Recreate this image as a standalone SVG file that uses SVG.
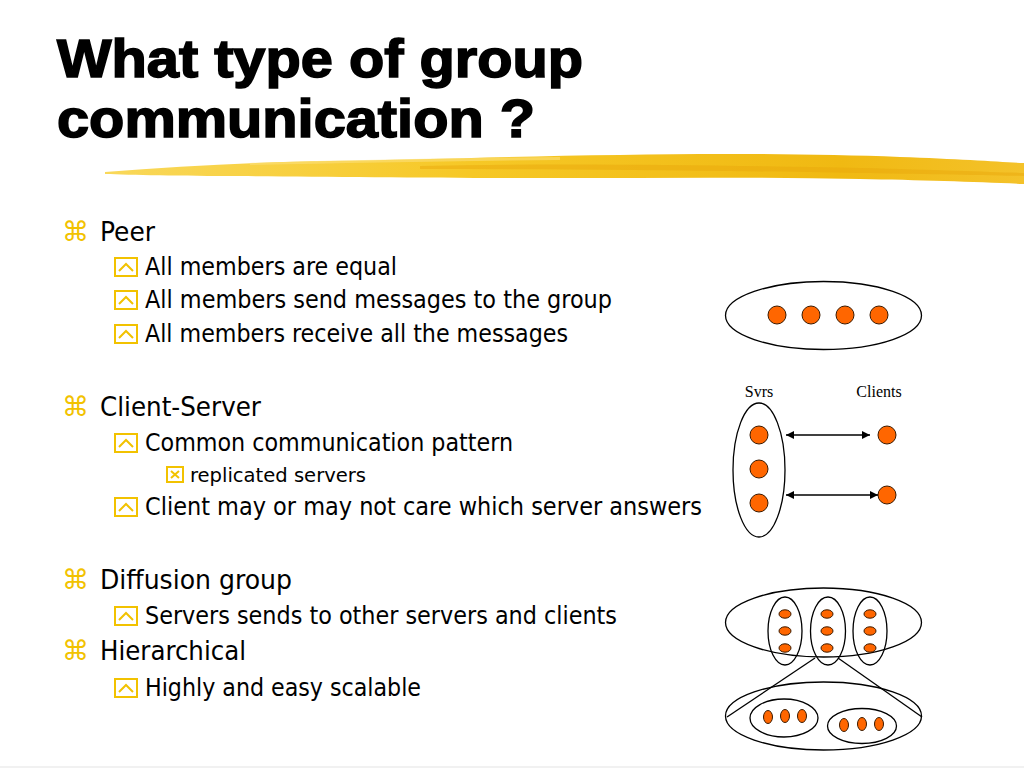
<svg xmlns="http://www.w3.org/2000/svg" width="1024" height="768" viewBox="0 0 1024 768">
<style>
.title{font-family:"Liberation Sans",Arial,sans-serif;font-weight:bold;font-size:54px;fill:#000;stroke:#000;stroke-width:1.6px}
.l1{font-family:"DejaVu Sans Condensed","DejaVu Sans",sans-serif;font-size:27px;fill:#000}
.l2{font-family:"DejaVu Sans Condensed","DejaVu Sans",sans-serif;font-size:24px;fill:#000}
.l3{font-family:"DejaVu Sans Condensed","DejaVu Sans",sans-serif;font-size:20px;fill:#000}
.cmd{font-family:"DejaVu Sans",sans-serif;font-size:27px;fill:#f2c200}
.ico{fill:none;stroke:#f2c200;stroke-width:2}
.dg{fill:none;stroke:#000;stroke-width:1.3}
.dot{fill:#ff6600;stroke:#3a1a00;stroke-width:1}
.lbl{font-family:"Liberation Serif","Times New Roman",serif;font-size:16px;fill:#000}
.conn{stroke:#000;stroke-width:1.4;fill:none}
</style>
<defs>
<marker id="ah" viewBox="0 0 10 10" refX="10" refY="5" markerWidth="10" markerHeight="8" markerUnits="userSpaceOnUse" orient="auto-start-reverse">
<path d="M0,0 L10,5 L0,10 Z" fill="#000"/>
</marker>
<g id="sq"><rect x="0" y="0" width="22" height="18" class="ico"/><polyline points="4,13 11,6 18,13" class="ico"/></g>
<linearGradient id="brush" x1="0" y1="0" x2="1" y2="0">
<stop offset="0" stop-color="#f9d85a"/>
<stop offset="0.4" stop-color="#f6c826"/>
<stop offset="0.8" stop-color="#f0b912"/>
<stop offset="1" stop-color="#f4c22a"/>
</linearGradient>
</defs>
<rect width="1024" height="768" fill="#fff"/>
<g id="title">
<text class="title" x="57" y="77" textLength="526" lengthAdjust="spacingAndGlyphs">What type of group</text>
<text class="title" x="57" y="137" textLength="478" lengthAdjust="spacingAndGlyphs">communication ?</text>
</g>
<g id="brushstroke">
<path d="M105,172 C180,166 260,162 330,161 C420,160 520,156 620,155 C720,153 820,154 900,157 C960,159 1000,162 1024,163 L1024,184 C980,182 920,180 860,179 C760,177 660,178 560,178 C440,178 330,177 240,176 C180,176 130,175 105,174 Z" fill="url(#brush)"/>
<path d="M420,166 C560,163 700,165 860,168 C940,170 990,172 1024,173 L1024,176 C980,175 920,174 860,173 C700,170 560,169 420,169 Z" fill="#eaa80c" opacity="0.5"/>
<path d="M250,163 C350,160 450,158 560,157 L560,160 C450,161 350,163 250,165 Z" fill="#fbe07a" opacity="0.6"/>
</g>
<g id="bullets">
<text class="cmd" x="62" y="241">⌘</text>
<text class="l1" x="100" y="241" textLength="55" lengthAdjust="spacingAndGlyphs">Peer</text>
<use href="#sq" x="115" y="258"/>
<text class="l2" x="145" y="275" textLength="252" lengthAdjust="spacingAndGlyphs">All members are equal</text>
<use href="#sq" x="115" y="291"/>
<text class="l2" x="145" y="308" textLength="467" lengthAdjust="spacingAndGlyphs">All members send messages to the group</text>
<use href="#sq" x="115" y="325"/>
<text class="l2" x="145" y="342" textLength="423" lengthAdjust="spacingAndGlyphs">All members receive all the messages</text>

<text class="cmd" x="62" y="416">⌘</text>
<text class="l1" x="100" y="416" textLength="161" lengthAdjust="spacingAndGlyphs">Client-Server</text>
<use href="#sq" x="115" y="434"/>
<text class="l2" x="145" y="451" textLength="368" lengthAdjust="spacingAndGlyphs">Common communication pattern</text>
<g id="xbox"><rect x="167" y="467" width="16" height="15" class="ico"/><path d="M171,471 L179,478 M179,471 L171,478" class="ico" stroke-width="1.5"/></g>
<text class="l3" x="190" y="482" textLength="176" lengthAdjust="spacingAndGlyphs">replicated servers</text>
<use href="#sq" x="115" y="498"/>
<text class="l2" x="145" y="515" textLength="557" lengthAdjust="spacingAndGlyphs">Client may or may not care which server answers</text>

<text class="cmd" x="62" y="589">⌘</text>
<text class="l1" x="100" y="589" textLength="192" lengthAdjust="spacingAndGlyphs">Diffusion group</text>
<use href="#sq" x="115" y="607"/>
<text class="l2" x="145" y="624" textLength="472" lengthAdjust="spacingAndGlyphs">Servers sends to other servers and clients</text>
<text class="cmd" x="62" y="660">⌘</text>
<text class="l1" x="100" y="660" textLength="146" lengthAdjust="spacingAndGlyphs">Hierarchical</text>
<use href="#sq" x="115" y="679"/>
<text class="l2" x="145" y="696" textLength="276" lengthAdjust="spacingAndGlyphs">Highly and easy scalable</text>
</g>

<g id="peer-diagram">
<ellipse class="dg" cx="823.5" cy="315.5" rx="98" ry="34"/>
<circle class="dot" cx="777" cy="315" r="9"/>
<circle class="dot" cx="811" cy="315" r="9"/>
<circle class="dot" cx="845" cy="315" r="9"/>
<circle class="dot" cx="879" cy="315" r="9"/>
</g>

<g id="servers">
<text class="lbl" x="759" y="397" text-anchor="middle">Svrs</text>
<ellipse class="dg" cx="759" cy="470" rx="26" ry="67"/>
<circle class="dot" cx="759" cy="435" r="9"/>
<circle class="dot" cx="759" cy="469" r="9"/>
<circle class="dot" cx="759" cy="503" r="9"/>
</g>
<g id="clients">
<text class="lbl" x="879" y="397" text-anchor="middle">Clients</text>
<circle class="dot" cx="887" cy="435" r="9"/>
<circle class="dot" cx="887" cy="495" r="9"/>
</g>
<g id="connectors">
<line class="conn" x1="786" y1="435" x2="870" y2="435" marker-start="url(#ah)" marker-end="url(#ah)"/>
<line class="conn" x1="786" y1="495" x2="878" y2="495" marker-start="url(#ah)" marker-end="url(#ah)"/>
<line class="dg" x1="815" y1="658" x2="727" y2="717"/>
<line class="dg" x1="838" y1="658" x2="922" y2="717"/>
</g>

<g id="diffusion-group">
<ellipse class="dg" cx="823.5" cy="622.5" rx="98" ry="34.5"/>
<ellipse class="dg" cx="785" cy="631" rx="17" ry="34"/>
<ellipse class="dg" cx="828" cy="631" rx="17.5" ry="34"/>
<ellipse class="dg" cx="870" cy="631" rx="17" ry="34"/>
<ellipse class="dot" cx="785" cy="614" rx="6" ry="4.2"/>
<ellipse class="dot" cx="785" cy="631" rx="6" ry="4.2"/>
<ellipse class="dot" cx="785" cy="648" rx="6" ry="4.2"/>
<ellipse class="dot" cx="827" cy="614" rx="6" ry="4.2"/>
<ellipse class="dot" cx="827" cy="631" rx="6" ry="4.2"/>
<ellipse class="dot" cx="827" cy="648" rx="6" ry="4.2"/>
<ellipse class="dot" cx="870" cy="614" rx="6" ry="4.2"/>
<ellipse class="dot" cx="870" cy="631" rx="6" ry="4.2"/>
<ellipse class="dot" cx="870" cy="648" rx="6" ry="4.2"/>
</g>
<g id="hierarchical">
<ellipse class="dg" cx="823.5" cy="716" rx="98" ry="34"/>
<ellipse class="dg" cx="784" cy="718" rx="34" ry="19"/>
<ellipse class="dg" cx="862" cy="726" rx="34.5" ry="17.5"/>
<ellipse class="dot" cx="768" cy="717" rx="4.5" ry="6.5"/>
<ellipse class="dot" cx="785" cy="716" rx="4.5" ry="6.5"/>
<ellipse class="dot" cx="802" cy="716" rx="4.5" ry="6.5"/>
<ellipse class="dot" cx="844" cy="725" rx="4.5" ry="6.5"/>
<ellipse class="dot" cx="862" cy="724" rx="4.5" ry="6.5"/>
<ellipse class="dot" cx="879" cy="724" rx="4.5" ry="6.5"/>
</g>
<line x1="0" y1="767" x2="1024" y2="767" stroke="#ececec" stroke-width="1.5"/>
</svg>
